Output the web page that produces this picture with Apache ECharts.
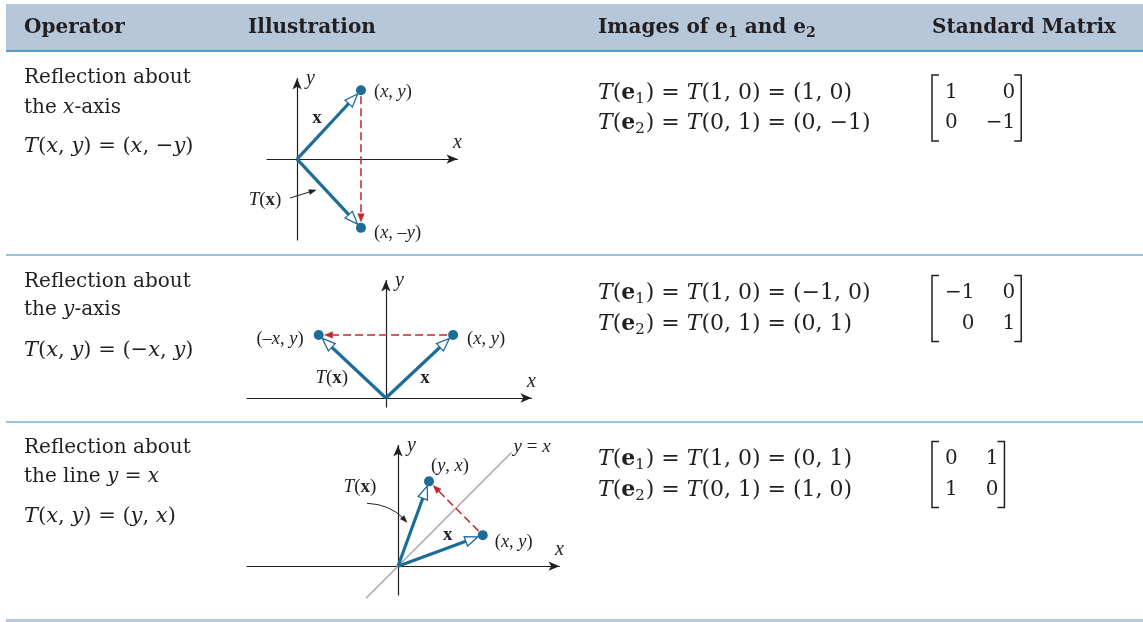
<!DOCTYPE html>
<html>
<head>
<meta charset="utf-8">
<title>Reflection operators</title>
<script src="https://cdn.jsdelivr.net/npm/echarts@6/dist/echarts.min.js"></script>
<style>
  html, body { margin: 0; padding: 0; background: #fff; }
  #main { width: 1143px; height: 622px; }
</style>
</head>
<body>
<div id="main"></div>
<script>
// vector x and its image T(x) for each operator (1 unit = one grid step)
const vecX = [[2.0, 2.15], [2.1, 1.97], [2.65, 0.97]];
const vecT = [[2.0, -2.15], [-2.1, 1.97], [0.97, 2.65]];
// the mirror line y = x (third operator)
const diagLine = [[-1.0, -1.0], [3.55, 3.55]];
// visible part of each illustration's axes
const xRanges = [[-0.94, 5.02], [-4.34, 4.55], [-4.72, 5.05]];
const yRanges = [[-2.53, 2.52], [-0.28, 3.67], [-0.9, 3.77]];
// standard matrices
const matrices = [[[1, 0], [0, -1]], [[-1, 0], [0, 1]], [[0, 1], [1, 0]]];

const headers = ['Operator', 'Illustration', 'Images of e{sb|1} and e{sb|2}', 'Standard Matrix'];
const operators = [
  ['Reflection about', 'the {i|x}-axis'],
  ['Reflection about', 'the {i|y}-axis'],
  ['Reflection about', 'the line {i|y} = {i|x}']
];
const formulas = [
  '{i|T}({i|x}, {i|y}) = ({i|x}, −{i|y})',
  '{i|T}({i|x}, {i|y}) = (−{i|x}, {i|y})',
  '{i|T}({i|x}, {i|y}) = ({i|y}, {i|x})'
];
const pointNames = [
  ['({i|x}, {i|y})', '({i|x}, –{i|y})'],
  ['({i|x}, {i|y})', '(–{i|x}, {i|y})'],
  ['({i|x}, {i|y})', '({i|y}, {i|x})']
];

const BLUE = '#1d6d98', RED = '#c1272d', INK = '#231f20', RULE = '#2a86bf', BAND = '#b7c7da';
const SERIF = 'DejaVu Serif', LFONT = 'Liberation Serif';

// page layout
const grids = [
  { left: 267, top: 78.5, width: 190.5, height: 161.5 },
  { left: 247, top: 280.5, width: 284.5, height: 126.5 },
  { left: 247, top: 445.5, width: 312.5, height: 149.5 }
];
const rows = [
  { op: [78, 108], eq: 147, img: [93, 123] },
  { op: [282, 310], eq: 351, img: [293, 324] },
  { op: [448, 477], eq: 517, img: [459, 490] }
];
// label offsets (px) from the middle of x and T(x)
const decor = [
  { xLab: [-12, -7], tLab: [-64, 6.5], callout: { from: [-39, 4.5], to: [-13, -3.5] } },
  { xLab: [5.5, 11.5], tLab: [-20.5, 11.5] },
  { xLab: [7.5, -15.5], tLab: [-53.5, -36.5], callout: { from: [-46.5, -20.5], ctrl: [-23.5, -19.5], to: [-6.5, -1.5] } }
];
const pointLabelPos = [
  [{ position: 'right', distance: 8, offset: [0, 2] }, { position: 'right', distance: 8, offset: [0, 5] }],
  [{ position: 'right', distance: 9, offset: [0, 4] }, { position: 'left', distance: 10, offset: [0, 4] }],
  [{ position: 'right', distance: 7, offset: [0, 7] }, { position: 'top', distance: 1, offset: [21, 0] }]
];

function rich(size, font) {
  font = font || SERIF;
  const sub = Math.round(size * 0.68);
  const drop = Math.round(size * 0.55);
  return {
    i: { fontStyle: 'italic', fontSize: size, fontFamily: font, fill: INK, color: INK },
    b: { fontWeight: 'bold', fontSize: size, fontFamily: font, fill: INK, color: INK },
    s: { fontSize: sub, fontFamily: font, fill: INK, color: INK, verticalAlign: 'bottom', padding: [drop, 1, 0, 0] },
    sb: { fontSize: sub, fontWeight: 'bold', fontFamily: font, fill: INK, color: INK, verticalAlign: 'bottom', padding: [drop, 0, 0, 0] }
  };
}

function txt(x, y, text, size, extra) {
  return {
    type: 'text', x: x, y: y, silent: true,
    style: Object.assign({
      text: text, fill: INK, fontFamily: SERIF, fontSize: size,
      align: 'left', textAlign: 'left', verticalAlign: 'middle', textVerticalAlign: 'middle',
      rich: rich(size)
    }, extra || {})
  };
}

function mid(a, b) { return [(a[0] + b[0]) / 2, (a[1] + b[1]) / 2]; }
function add(a, d) { return [a[0] + d[0], a[1] + d[1]]; }

function head(tip, ux, uy, len, half, fill, stroke, lw) {
  const base = [tip[0] - ux * len, tip[1] - uy * len];
  const nx = -uy, ny = ux;
  return {
    type: 'polygon',
    shape: { points: [tip, [base[0] + nx * half, base[1] + ny * half], [base[0] - nx * half, base[1] - ny * half]] },
    style: { fill: fill, stroke: stroke, lineWidth: lw }
  };
}

function arrow(a, b, o) {
  const dx = b[0] - a[0], dy = b[1] - a[1], len = Math.hypot(dx, dy);
  const ux = dx / len, uy = dy / len;
  const s = [a[0] + ux * o.gap0, a[1] + uy * o.gap0];
  const tip = [b[0] - ux * o.gap1, b[1] - uy * o.gap1];
  const end = [tip[0] - ux * o.head, tip[1] - uy * o.head];
  return [
    { type: 'line', shape: { x1: s[0], y1: s[1], x2: end[0], y2: end[1] },
      style: { stroke: o.color, lineWidth: o.width, lineDash: o.dash || null, fill: null } },
    o.hollow ? head(tip, ux, uy, o.head, o.half, '#fff', o.color, 1.3)
             : head(tip, ux, uy, o.head, o.half, o.color, o.color, 0.5)
  ];
}

function label(pt, text, size) {
  return {
    type: 'text', x: pt[0], y: pt[1],
    style: {
      text: text, fill: INK, fontFamily: LFONT, fontSize: size,
      align: 'center', textAlign: 'center', verticalAlign: 'middle', textVerticalAlign: 'middle',
      rich: rich(size, LFONT)
    }
  };
}

function drawIllustration(cfg) {
  return function (params, api) {
    const o = api.coord([0, 0]);
    const p = api.coord([api.value(0), api.value(1)]);
    const q = api.coord([api.value(2), api.value(3)]);
    const vec = { gap0: 0, gap1: 5, head: 13, half: 5, width: 3.2, color: BLUE, hollow: true };
    let kids = [];
    kids = kids.concat(arrow(o, p, vec), arrow(o, q, vec));
    kids = kids.concat(arrow(p, q, { gap0: 6, gap1: 6, head: 8, half: 3.2, width: 1.5, color: RED, dash: [8, 4] }));
    const mp = mid(o, p), mq = mid(o, q);
    kids.push(label(add(mp, cfg.xLab), '{b|x}', 19));
    kids.push(label(add(mq, cfg.tLab), '{i|T}({b|x})', 19));
    const c = cfg.callout;
    if (c) {
      const from = add(mq, c.from), to = add(mq, c.to);
      if (c.ctrl) {
        const ctrl = add(mq, c.ctrl);
        const dx = to[0] - ctrl[0], dy = to[1] - ctrl[1], l = Math.hypot(dx, dy);
        kids.push({ type: 'bezierCurve', shape: { x1: from[0], y1: from[1], x2: to[0] - dx / l * 5, y2: to[1] - dy / l * 5, cpx1: ctrl[0], cpy1: ctrl[1] },
          style: { stroke: INK, lineWidth: 1, fill: null } });
        kids.push(head(to, dx / l, dy / l, 7, 2.5, INK, INK, 0.5));
      } else {
        kids = kids.concat(arrow(from, to, { gap0: 0, gap1: 0, head: 7, half: 2.5, width: 1, color: INK }));
      }
    }
    return { type: 'group', children: kids };
  };
}

const xAxes = [], yAxes = [], series = [];
const axisLine = { show: true, onZero: true, symbol: ['none', 'arrow'], symbolSize: [7, 11], lineStyle: { color: INK, width: 1.2 } };
const nameStyle = { fontFamily: LFONT, fontStyle: 'italic', fontSize: 20, color: INK };

for (let i = 0; i < 3; i++) {
  xAxes.push({
    type: 'value', gridIndex: i, min: xRanges[i][0], max: xRanges[i][1],
    axisLine: axisLine, axisTick: { show: false }, axisLabel: { show: false }, splitLine: { show: false },
    name: 'x', nameLocation: 'end', nameGap: 0,
    nameTextStyle: Object.assign({ align: 'center', verticalAlign: 'bottom', padding: [0, 0, 6, 0] }, nameStyle)
  });
  yAxes.push({
    type: 'value', gridIndex: i, min: yRanges[i][0], max: yRanges[i][1],
    axisLine: axisLine, axisTick: { show: false }, axisLabel: { show: false }, splitLine: { show: false },
    name: 'y', nameLocation: 'end', nameGap: 0,
    nameTextStyle: Object.assign({ align: 'left', verticalAlign: 'middle', padding: [0, 0, 0, 9] }, nameStyle)
  });
  series.push({
    type: 'custom', xAxisIndex: i, yAxisIndex: i, z: 5, silent: true,
    encode: { x: [0, 2], y: [1, 3] },
    data: [[vecX[i][0], vecX[i][1], vecT[i][0], vecT[i][1]]],
    renderItem: drawIllustration(decor[i])
  });
  series.push({
    type: 'scatter', xAxisIndex: i, yAxisIndex: i, z: 6, silent: true,
    symbolSize: 10, itemStyle: { color: BLUE, opacity: 1 },
    data: [vecX[i], vecT[i]].map(function (v, k) {
      return {
        value: v,
        label: Object.assign({
          show: true, formatter: pointNames[i][k], color: INK,
          fontFamily: LFONT, fontSize: 18.5, rich: rich(18.5, LFONT)
        }, pointLabelPos[i][k])
      };
    })
  });
}

series.push({
  type: 'line', xAxisIndex: 2, yAxisIndex: 2, z: 3, silent: true, clip: false,
  data: diagLine, symbol: 'none',
  lineStyle: { color: '#a7a9ac', width: 1.5 },
  endLabel: {
    show: true, formatter: '{i|y} = {i|x}', distance: 2, offset: [0, -6],
    color: INK, fontFamily: LFONT, fontSize: 19, rich: rich(19, LFONT)
  }
});

// table: header band, rules, text
const graphic = [
  { type: 'rect', silent: true, z: -10, shape: { x: 6, y: 4, width: 1137, height: 47 }, style: { fill: BAND } },
  { type: 'line', silent: true, shape: { x1: 6, y1: 51, x2: 1143, y2: 51 }, style: { stroke: RULE, lineWidth: 1.5 } },
  { type: 'line', silent: true, shape: { x1: 6, y1: 255, x2: 1143, y2: 255 }, style: { stroke: RULE, lineWidth: 1.2 } },
  { type: 'line', silent: true, shape: { x1: 6, y1: 422, x2: 1143, y2: 422 }, style: { stroke: RULE, lineWidth: 1.2 } },
  { type: 'rect', silent: true, shape: { x: 6, y: 619, width: 1137, height: 3 }, style: { fill: BAND } }
];
const headerX = [24, 248, 598, 932];
headers.forEach(function (h, k) {
  graphic.push(txt(headerX[k], 28, h, 20, { fontWeight: 'bold' }));
});

const measure = document.createElement('canvas').getContext('2d');
measure.font = '20px "' + SERIF + '"';
function fmt(v) { return v < 0 ? '−' + (-v) : String(v); }

rows.forEach(function (r, i) {
  graphic.push(txt(24, r.op[0], operators[i][0], 20));
  graphic.push(txt(24, r.op[1], operators[i][1], 20));
  graphic.push(txt(24, r.eq, formulas[i], 21));

  const m = matrices[i];
  graphic.push(txt(598, r.img[0], '{i|T}({b|e}{s|1}) = {i|T}(1, 0) = (' + fmt(m[0][0]) + ', ' + fmt(m[1][0]) + ')', 22));
  graphic.push(txt(598, r.img[1], '{i|T}({b|e}{s|2}) = {i|T}(0, 1) = (' + fmt(m[0][1]) + ', ' + fmt(m[1][1]) + ')', 22));

  // matrix entries, right aligned per column
  let x = 945;
  const top = (r.img[0] + r.img[1]) / 2 - 33, bottom = top + 66;
  for (let c = 0; c < 2; c++) {
    const w = Math.max(measure.measureText(fmt(m[0][c])).width, measure.measureText(fmt(m[1][c])).width);
    for (let rr = 0; rr < 2; rr++) {
      graphic.push(txt(x + w, r.img[rr], fmt(m[rr][c]), 20, { align: 'right', textAlign: 'right' }));
    }
    x += w + (c === 0 ? 28 : 0);
  }
  const L = 932, R = x + 6;
  graphic.push({ type: 'polyline', silent: true, shape: { points: [[L + 7, top], [L, top], [L, bottom], [L + 7, bottom]] }, style: { stroke: INK, lineWidth: 1.5, fill: null } });
  graphic.push({ type: 'polyline', silent: true, shape: { points: [[R - 7, top], [R, top], [R, bottom], [R - 7, bottom]] }, style: { stroke: INK, lineWidth: 1.5, fill: null } });
});

const chart = echarts.init(document.getElementById('main'));
chart.setOption({
  animation: false,
  backgroundColor: '#fff',
  grid: grids,
  xAxis: xAxes,
  yAxis: yAxes,
  series: series,
  graphic: graphic
});
</script>
</body>
</html>
